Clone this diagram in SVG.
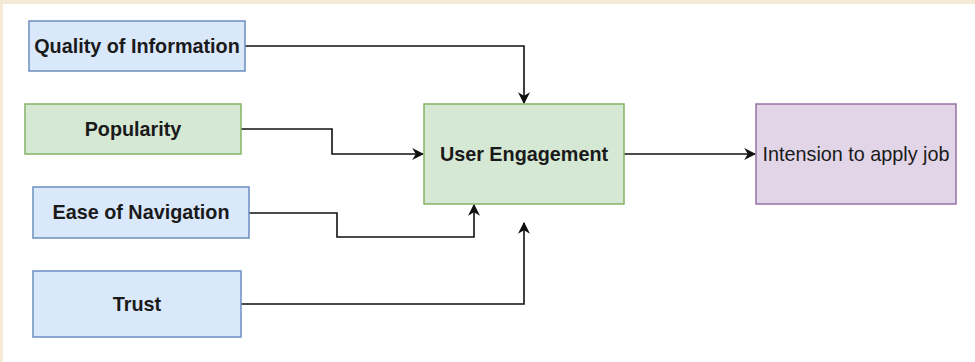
<svg xmlns="http://www.w3.org/2000/svg" width="975" height="362" viewBox="0 0 975 362">
  <style>
    .blue { fill: #dae8fc; stroke: #6c8ebf; stroke-width: 1.5; }
    .green { fill: #d5e8d4; stroke: #82b366; stroke-width: 1.5; }
    .purple { fill: #e1d5e7; stroke: #9673a6; stroke-width: 1.5; }
    .lbl { font-family: "Liberation Sans", Arial, sans-serif; font-size: 19.8px; font-weight: bold; fill: #1a1a1a; text-anchor: middle; dominant-baseline: central; }
    .lbl-r { font-family: "Liberation Sans", Arial, sans-serif; font-size: 19.8px; fill: #1a1a1a; text-anchor: middle; dominant-baseline: central; }
    .wire { fill: none; stroke: #111; stroke-width: 1.6; marker-end: url(#arrow); }
  </style>
  <defs>
    <marker id="arrow" viewBox="0 0 10 10" refX="9" refY="5" markerWidth="12" markerHeight="12" markerUnits="userSpaceOnUse" orient="auto">
      <path d="M0,0 L10,5 L0,10 L3,5 Z" fill="#111"/>
    </marker>
  </defs>
  <rect x="0" y="0" width="975" height="362" fill="#ffffff"/>
  <rect x="0" y="0" width="975" height="4" fill="#f5ead6"/>
  <rect x="0" y="0" width="3" height="362" fill="#f5ead6"/>

  <g id="connectors">
    <path class="wire" d="M245,46 H524 V103"/>
    <path class="wire" d="M241,129 H332 V154 H423"/>
    <path class="wire" d="M249,213 H337 V237 H474 V205"/>
    <path class="wire" d="M241,304 H524 V223"/>
    <path class="wire" d="M624,154 H755"/>
  </g>

  <g id="quality">
    <rect class="blue" x="29" y="21" width="216" height="50"/>
    <text class="lbl" x="137" y="46">Quality of Information</text>
  </g>
  <g id="popularity">
    <rect class="green" x="25" y="104" width="216" height="50"/>
    <text class="lbl" x="133" y="129">Popularity</text>
  </g>
  <g id="ease">
    <rect class="blue" x="33" y="187" width="216" height="51"/>
    <text class="lbl" x="141" y="212">Ease of Navigation</text>
  </g>
  <g id="trust">
    <rect class="blue" x="33" y="271" width="208" height="66"/>
    <text class="lbl" x="137" y="304">Trust</text>
  </g>
  <g id="engagement">
    <rect class="green" x="424" y="104" width="200" height="100"/>
    <text class="lbl" x="524" y="154">User Engagement</text>
  </g>
  <g id="intention">
    <rect class="purple" x="756" y="104" width="200" height="100"/>
    <text class="lbl-r" x="856" y="154">Intension to apply job</text>
  </g>
</svg>
